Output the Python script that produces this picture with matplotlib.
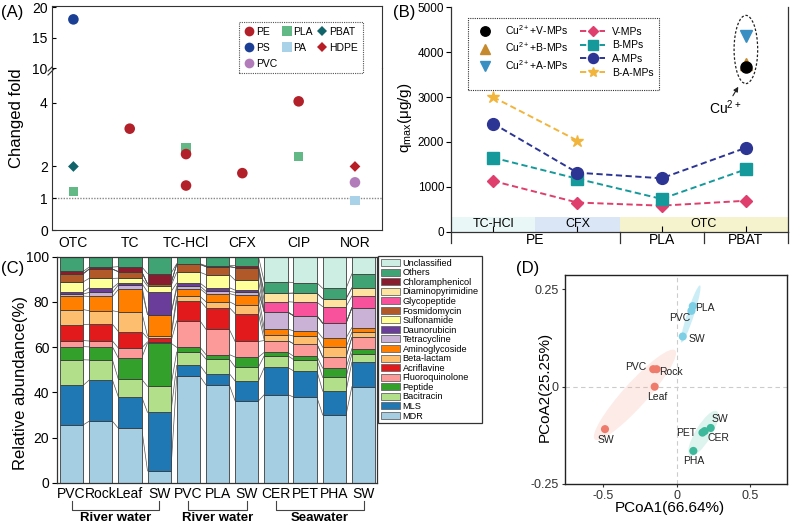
import matplotlib
matplotlib.use("Agg")
import matplotlib.pyplot as plt
import matplotlib.transforms as mtransforms
import numpy as np
from matplotlib.lines import Line2D
from matplotlib.patches import Ellipse, Patch, Rectangle

plt.rcParams["font.family"] = ["Liberation Sans", "DejaVu Sans"]
plt.rcParams["mathtext.default"] = "regular"

# ---------------- (A) changed fold ----------------
drugs_a = ["OTC", "TC", "TC-HCl", "CFX", "CIP", "NOR"]
pe_drug = ["TC", "TC-HCl", "TC-HCl", "CFX", "CIP"]
pe_fold = [3.19, 2.39, 1.40, 1.79, 4.05]
ps_drug = ["OTC"]
ps_fold = [18.0]
pvc_drug = ["NOR"]
pvc_fold = [1.5]
pla_drug = ["OTC", "TC-HCl", "CIP"]
pla_fold = [1.21, 2.58, 2.31]
pa_drug = ["NOR"]
pa_fold = [0.92]
pbat_drug = ["OTC"]
pbat_fold = [2.0]
hdpe_drug = ["NOR"]
hdpe_fold = [2.0]

# ---------------- (B) adsorption capacity ----------------
sites_b = ["TC-HCl", "CFX", "OTC", "OTC"]
polymers_b = ["PE", "PE", "PLA", "PBAT"]
v_mps = [1130, 650, 580, 690]
b_mps = [1650, 1180, 730, 1390]
a_mps = [2410, 1315, 1190, 1870]
ba_mps = [3000, 2030]
cu_v_mps = [3680]
cu_b_mps = [3730]
cu_a_mps = [4350]

# ---------------- (C) ARG relative abundance ----------------
samples_c = ["PVC", "Rock", "Leaf", "SW", "PVC", "PLA", "SW", "CER", "PET", "PHA", "SW"]
groups_c = ["River water", "River water", "Seawater"]
group_span = [(0, 3), (4, 6), (7, 10)]
arg_classes = ["MDR", "MLS", "Bacitracin", "Peptide", "Fluoroquinolone", "Acriflavine",
               "Beta-lactam", "Aminoglycoside", "Tetracycline", "Daunorubicin", "Sulfonamide",
               "Fosmidomycin", "Glycopeptide", "Diaminopyrimidine", "Chloramphenicol",
               "Others", "Unclassified"]
mdr = [25.6, 27.2, 24.1, 5.2, 47.0, 43.3, 36.2, 39.0, 37.9, 30.0, 42.5]
mls = [17.5, 18.2, 13.9, 25.9, 4.9, 5.0, 8.8, 12.0, 11.6, 10.5, 10.8]
bacitracin = [11.3, 8.9, 7.8, 11.5, 5.9, 6.4, 6.2, 5.2, 5.0, 6.1, 3.8]
peptide = [5.8, 5.8, 9.4, 19.2, 2.1, 2.0, 4.4, 1.5, 1.5, 4.1, 2.2]
fluoroquinolone = [2.7, 2.6, 4.4, 0.5, 11.7, 11.2, 6.9, 5.2, 5.5, 4.9, 5.0]
acriflavine = [7.1, 7.4, 7.3, 1.7, 9.0, 9.6, 12.3, 0, 0, 0, 0]
beta_lactam = [6.6, 6.0, 8.7, 1.0, 1.8, 2.6, 4.0, 2.6, 3.4, 4.4, 2.3]
aminoglycoside = [6.0, 6.3, 9.9, 9.4, 3.4, 3.6, 4.2, 2.5, 2.3, 4.0, 2.0]
tetracycline = [0.9, 1.8, 2.0, 0, 1.2, 1.0, 1.2, 7.5, 6.7, 6.6, 8.8]
daunorubicin = [1.0, 2.0, 0.8, 10.0, 1.3, 1.6, 1.0, 0, 0, 0, 0]
sulfonamide = [4.4, 4.2, 2.2, 2.6, 4.8, 5.8, 4.4, 0, 0, 0, 0]
fosmidomycin = [3.6, 4.1, 2.9, 1.0, 3.5, 3.5, 5.6, 0, 0, 0, 0]
glycopeptide = [0, 0, 0, 0, 0, 0, 0, 4.6, 6.0, 7.3, 5.2]
diaminopyrimidine = [0, 0, 0, 0, 0, 0, 0, 3.7, 4.0, 3.5, 3.6]
chloramphenicol = [1.0, 0.9, 2.2, 4.5, 0.3, 0.4, 0.9, 0, 0, 0, 0]
others = [6.5, 4.6, 4.4, 7.5, 3.1, 4.0, 3.9, 5.0, 4.6, 4.6, 6.2]
unclassified = [0, 0, 0, 0, 0, 0, 0, 11.2, 11.5, 14.0, 7.6]
arg_colors = ["#a6cee3", "#1f78b4", "#b2df8a", "#33a02c", "#fb9a99", "#e31a1c",
              "#fdbf6f", "#ff7f00", "#cab2d6", "#6a3d9a", "#ffff99", "#b15928",
              "#f8529c", "#fde2a0", "#8a1c2f", "#3fa373", "#cdeee3"]

# ---------------- (D) PCoA ----------------
river1_labels = ["PVC", "Rock", "Leaf", "SW"]
river1_x = [-0.16, -0.137, -0.15, -0.488]
river1_y = [0.045, 0.045, 0.0, -0.109]
river2_labels = ["PLA", "PVC", "SW"]
river2_x = [0.109, 0.10, 0.041]
river2_y = [0.207, 0.195, 0.129]
sea_labels = ["SW", "CER", "PET", "PHA"]
sea_x = [0.231, 0.19, 0.175, 0.113]
sea_y = [-0.106, -0.114, -0.118, -0.165]

W, H = 792, 524
fig = plt.figure(figsize=(W / 100, H / 100), dpi=100)


def box(left, top, right, bottom):
    return [left / W, 1 - bottom / H, (right - left) / W, (bottom - top) / H]


# ===== panel A =====
ax_lo = fig.add_axes(box(52, 68, 382, 230))
ax_hi = fig.add_axes(box(52, 6, 382, 68), sharex=ax_lo)
pos_a = {d: i for i, d in enumerate(drugs_a)}

series_a = [
    ("PLA", pla_drug, pla_fold, "s", "#63b985", 44),
    ("PA", pa_drug, pa_fold, "s", "#a9d2e8", 44),
    ("PE", pe_drug, pe_fold, "o", "#b22029", 58),
    ("PS", ps_drug, ps_fold, "o", "#1b3f94", 58),
    ("PVC", pvc_drug, pvc_fold, "o", "#b27bb9", 58),
    ("PBAT", pbat_drug, pbat_fold, "D", "#12646b", 30),
    ("HDPE", hdpe_drug, hdpe_fold, "D", "#b81c25", 30),
]
handles_a = {}
for name, drug, fold, mk, col, s in series_a:
    xs = [pos_a[d] for d in drug]
    for ax in (ax_lo, ax_hi):
        ax.scatter(xs, fold, marker=mk, s=s, color=col, edgecolors="none", zorder=3)
    handles_a[name] = Line2D([], [], marker=mk, ls="none", color=col,
                             markersize=7 if mk != "D" else 5.5, markeredgewidth=0)

ax_lo.axhline(1, color="#888888", ls=(0, (1, 1)), lw=1, zorder=1)
ax_lo.set_ylim(0, 5.1)
ax_hi.set_ylim(10, 20.2)
ax_lo.set_xlim(-0.38, 5.48)
ax_lo.set_yticks([0, 1, 2, 4])
ax_hi.set_yticks([10, 15, 20])
ax_lo.set_xticks(range(len(drugs_a)))
ax_lo.set_xticklabels(drugs_a)
ax_lo.spines["top"].set_visible(False)
ax_hi.spines["bottom"].set_visible(False)
ax_hi.tick_params(axis="x", bottom=False, labelbottom=False)
for ax in (ax_lo, ax_hi):
    ax.tick_params(labelsize=10, length=3, direction="in", pad=3)
    for sp in ax.spines.values():
        sp.set_linewidth(0.8)
        sp.set_color("#333333")
ax_lo.tick_params(axis="x", length=0, pad=4)

# axis break mark
for dy in (-4, 0):
    ax_lo.plot([-0.012, 0.012], [1 + (dy - 3) / 162, 1 + (dy + 5) / 162],
               transform=ax_lo.transAxes, color="#333333", lw=0.8, clip_on=False)

order_a = ["PE", "PS", "PVC", "PLA", "PA", "PBAT", "HDPE"]
leg_a = ax_hi.legend([handles_a[n] for n in order_a], order_a, ncol=3, loc="upper right",
                     bbox_to_anchor=(0.957, 0.82), fontsize=7.5, handlelength=1.0,
                     handletextpad=0.15, columnspacing=0.4, labelspacing=0.55,
                     borderpad=0.45, fancybox=False, framealpha=1)
leg_a.get_frame().set_linestyle((0, (1, 1)))
leg_a.get_frame().set_edgecolor("#555555")
leg_a.get_frame().set_linewidth(0.8)

fig.text(17 / W, 1 - 118 / H, "Changed fold", rotation=90, ha="center", va="center", fontsize=12)
fig.text(1 / W, 1 - 12 / H, "(A)", ha="left", va="center", fontsize=12)

# ===== panel B =====
ax_b = fig.add_axes(box(451, 7.3, 788, 231.7))
xb = np.arange(len(sites_b))
band_colors = {"TC-HCl": "#e9f7f7", "CFX": "#dae6f6", "OTC": "#f5f3cd"}
band_spans = [("TC-HCl", -0.5, 0.5), ("CFX", 0.5, 1.5), ("OTC", 1.5, 3.5)]
for name, x0, x1 in band_spans:
    ax_b.add_patch(Rectangle((x0, 0), x1 - x0, 335, facecolor=band_colors[name],
                             edgecolor="none", zorder=0))
    ax_b.text((x0 + x1) / 2, 167, name, ha="center", va="center", fontsize=9, zorder=1)

dash = (3.2, 1.8)
l_v, = ax_b.plot(xb, v_mps, ls="--", dashes=dash, marker="D", ms=6, color="#de3f6c", lw=1.4, zorder=3)
l_b, = ax_b.plot(xb, b_mps, ls="--", dashes=dash, marker="s", ms=8, color="#16999b", lw=1.4, zorder=3)
l_a, = ax_b.plot(xb, a_mps, ls="--", dashes=dash, marker="o", ms=8.5, color="#2c3594", lw=1.4, zorder=3)
l_ba, = ax_b.plot(xb[:len(ba_mps)], ba_mps, ls="--", dashes=dash, marker="*", ms=9,
                  color="#f2b53c", lw=1.4, zorder=3)
cu_x = [3]
p_cb, = ax_b.plot(cu_x, cu_b_mps, ls="none", marker="^", ms=8, color="#c68a2e", zorder=3)
p_cv, = ax_b.plot(cu_x, cu_v_mps, ls="none", marker="o", ms=8, color="black", zorder=4)
p_ca, = ax_b.plot(cu_x, cu_a_mps, ls="none", marker="v", ms=8, color="#3a8fc2", zorder=4)
ax_b.add_patch(Ellipse((3.0, 4060), 0.28, 1520, fill=False, ls=(0, (2, 1.5)), lw=0.9,
                       edgecolor="#222222", zorder=2))
ax_b.annotate("Cu$^{2+}$", xy=(2.91, 3230), xytext=(2.76, 2760), ha="center", va="center",
              fontsize=10, arrowprops=dict(arrowstyle="-|>", color="#222222", lw=0.8,
                                           mutation_scale=7, shrinkA=0, shrinkB=0))

ax_b.set_xlim(-0.5, 3.5)
ax_b.set_ylim(0, 5000)
ax_b.set_yticks(range(0, 5001, 1000))
ax_b.set_xticks(xb)
ax_b.tick_params(axis="x", direction="in", length=4, labelbottom=False)
ax_b.tick_params(axis="y", direction="out", length=3.5, labelsize=8.5, pad=1.5)
ax_b.spines["top"].set_visible(False)
for sp in ax_b.spines.values():
    sp.set_linewidth(0.9)
    sp.set_color("#333333")
trans_b = mtransforms.blended_transform_factory(ax_b.transData, ax_b.transAxes)
for xs in (-0.5, 1.5, 2.5, 3.5):
    ax_b.plot([xs, xs], [0, -0.05], transform=trans_b, color="#333333", lw=0.9, clip_on=False)
poly_pos = {}
for i, p in enumerate(polymers_b):
    poly_pos.setdefault(p, []).append(i)
for p, idx in poly_pos.items():
    ax_b.text(np.mean(idx) if len(idx) > 1 else idx[0], -0.038, p, transform=trans_b,
              ha="center", va="center", fontsize=10)

blank = Line2D([], [], ls="none")
handles_b = [p_cv, p_cb, p_ca, blank, l_v, l_b, l_a, l_ba]
labels_b = ["Cu$^{2+}$+V-MPs", "Cu$^{2+}$+B-MPs", "Cu$^{2+}$+A-MPs", "",
            "V-MPs", "B-MPs", "A-MPs", "B-A-MPs"]
leg_b = ax_b.legend(handles_b, labels_b, ncol=2, loc="upper left", bbox_to_anchor=(0.035, 0.975),
                    fontsize=7.5, handlelength=2.4, handletextpad=0.7, columnspacing=1.1,
                    labelspacing=0.36, borderpad=0.45, markerscale=0.85, fancybox=False,
                    framealpha=1)
leg_b.get_frame().set_linestyle((0, (1, 1)))
leg_b.get_frame().set_edgecolor("#333333")
leg_b.get_frame().set_linewidth(0.8)

fig.text(405 / W, 1 - 118 / H, "q$_{max}$(μg/g)", rotation=90, ha="center", va="center", fontsize=11)
fig.text(393 / W, 1 - 12 / H, "(B)", ha="left", va="center", fontsize=12)

# ===== panel C =====
ax_c = fig.add_axes(box(57, 256.7, 377, 482.7))
stack = [mdr, mls, bacitracin, peptide, fluoroquinolone, acriflavine, beta_lactam,
         aminoglycoside, tetracycline, daunorubicin, sulfonamide, fosmidomycin,
         glycopeptide, diaminopyrimidine, chloramphenicol, others, unclassified]
vals = np.array(stack, dtype=float)
xc = np.arange(len(samples_c))
width = 0.8
bottom = np.zeros(len(samples_c))
bounds = [bottom.copy()]
for k, row in enumerate(vals):
    nz = row > 0
    ax_c.bar(xc[nz], row[nz], bottom=bottom[nz], width=width, color=arg_colors[k],
             edgecolor="#3c3c3c", linewidth=0.6, zorder=2)
    bottom = bottom + row
    bounds.append(bottom.copy())
for b in bounds[1:-1]:
    for i in range(len(xc) - 1):
        ax_c.plot([xc[i] + width / 2, xc[i + 1] - width / 2], [b[i], b[i + 1]],
                  color="#555555", lw=0.5, zorder=1)

ax_c.set_xlim(-0.5, len(xc) - 0.54)
ax_c.set_ylim(0, 100)
ax_c.set_yticks(range(0, 101, 20))
ax_c.set_xticks(xc)
ax_c.set_xticklabels(samples_c)
ax_c.tick_params(axis="x", length=0, labelsize=10, pad=3)
ax_c.tick_params(axis="y", direction="out", length=3.5, labelsize=10, pad=2)
for sp in ax_c.spines.values():
    sp.set_linewidth(0.9)
    sp.set_color("#333333")
trans_c = mtransforms.blended_transform_factory(ax_c.transData, ax_c.transAxes)
for name, (i0, i1) in zip(groups_c, group_span):
    ax_c.plot([xc[i0], xc[i0], xc[i1], xc[i1]], [-0.08, -0.121, -0.121, -0.08],
              transform=trans_c, color="#444444", lw=0.8, clip_on=False)
    ax_c.text((xc[i0] + xc[i1]) / 2, -0.158, name, transform=trans_c, ha="center",
              va="center", fontsize=9.5, fontweight="bold")

leg_handles_c = [Patch(facecolor=arg_colors[k], edgecolor="#666666", linewidth=0.6)
                 for k in range(len(arg_classes))][::-1]
leg_c = ax_c.legend(leg_handles_c, arg_classes[::-1], loc="upper left",
                    bbox_to_anchor=(1.003, 1.003), fontsize=6.6, handlelength=2.1,
                    handleheight=0.8, handletextpad=0.3, labelspacing=0.06,
                    borderpad=0.3, borderaxespad=0, fancybox=False, framealpha=1)
leg_c.get_frame().set_edgecolor("#333333")
leg_c.get_frame().set_linewidth(0.9)

fig.text(21 / W, 1 - 383 / H, "Relative abundance(%)", rotation=90, ha="center", va="center",
         fontsize=12)
fig.text(1 / W, 1 - 268 / H, "(C)", ha="left", va="center", fontsize=12)

# ===== panel D =====
ax_d = fig.add_axes(box(565, 275, 787, 484))
ax_d.set_xlim(-0.76, 0.75)
ax_d.set_ylim(-0.25, 0.287)
ax_d.axvline(0, color="#cccccc", ls=(0, (4, 3)), lw=0.8, zorder=0)
ax_d.axhline(0, color="#cccccc", ls=(0, (4, 3)), lw=0.8, zorder=0)


def add_ellipse(ax, cx, cy, a_px, b_px, ang, color, alpha):
    tr = fig.dpi_scale_trans + mtransforms.ScaledTranslation(cx, cy, ax.transData)
    ax.add_patch(Ellipse((0, 0), 2 * a_px / 100, 2 * b_px / 100, angle=ang, transform=tr,
                         facecolor=color, edgecolor="none", alpha=alpha, zorder=1))


add_ellipse(ax_d, -0.284, -0.021, 60, 12, 48, "#f6a595", 0.22)
add_ellipse(ax_d, 0.095, 0.187, 30, 3.5, 72, "#7fd3ea", 0.4)
add_ellipse(ax_d, 0.181, -0.12, 26, 8, 59, "#58c4a8", 0.2)

river1_off = [(-17, 2), (14, -3), (3, -10), (1, -11)]
river2_off = [(12, -2), (-12, -7), (14, -3)]
sea_off = [(9, 9), (14, -7), (-16, 0), (0, -10)]
pcoa_groups = [
    (river1_labels, river1_x, river1_y, river1_off, "#ee7b6b"),
    (river2_labels, river2_x, river2_y, river2_off, "#7dcfe6"),
    (sea_labels, sea_x, sea_y, sea_off, "#3db89a"),
]
for labs, xs, ys, offs, col in pcoa_groups:
    ax_d.scatter(xs, ys, s=34, color=col, edgecolors="none", zorder=3)
    for lab, x, y, off in zip(labs, xs, ys, offs):
        ax_d.annotate(lab, (x, y), xytext=off, textcoords="offset pixels", ha="center",
                      va="center", fontsize=7.5, color="#222222")

ax_d.set_xticks([-0.5, 0, 0.5])
ax_d.set_xticklabels(["-0.5", "0", "0.5"])
ax_d.set_yticks([-0.25, 0, 0.25])
ax_d.set_yticklabels(["-0.25", "0", "0.25"])
ax_d.tick_params(length=2.5, labelsize=9, colors="#333333", pad=2)
for sp in ax_d.spines.values():
    sp.set_linewidth(1.0)
    sp.set_color("#222222")
fig.text(670 / W, 1 - 508 / H, "PCoA1(66.64%)", ha="center", va="center", fontsize=11)
fig.text(545 / W, 1 - 387 / H, "PCoA2(25.25%)", rotation=90, ha="center", va="center",
         fontsize=11)
fig.text(516 / W, 1 - 268 / H, "(D)", ha="left", va="center", fontsize=12)

fig.savefig("out.png", dpi=100)
